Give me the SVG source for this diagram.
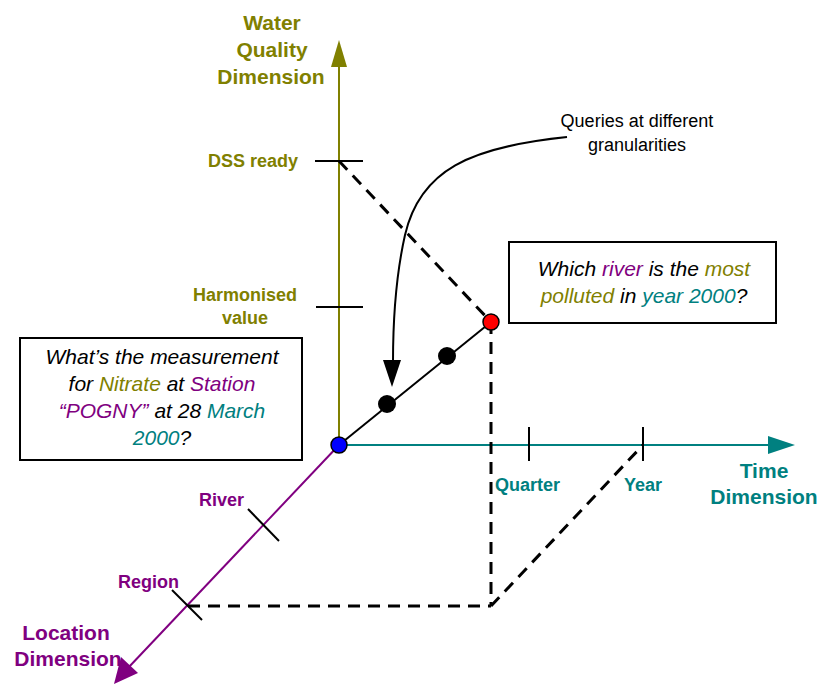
<svg xmlns="http://www.w3.org/2000/svg" width="820" height="684" viewBox="0 0 820 684">
  <defs>
    <style>
      .lbl { font-family: "Liberation Sans", Arial, sans-serif; font-weight: bold; }
      .olive { fill: #808000; }
      .purple { fill: #800080; }
      .teal { fill: #008080; }
      .dim { font-size: 21px; }
      .tk { font-size: 18px; }
      .q { font-family: "Liberation Sans", Arial, sans-serif; font-style: italic; font-size: 21px; fill: #000; }
      .note { font-family: "Liberation Sans", Arial, sans-serif; font-size: 18px; fill: #000; }
      .tick { stroke: #000; stroke-width: 2; fill: none; }
      .dash { stroke: #000; stroke-width: 3; stroke-dasharray: 12 8; fill: none; }
      .box { fill: #fff; stroke: #000; stroke-width: 2; }
    </style>
  </defs>

  <!-- dimension axes -->
  <g id="axes">
    <line x1="339" y1="445" x2="339" y2="66" stroke="#808000" stroke-width="2"/>
    <polygon points="339,40 331,67 347,67" fill="#808000"/>
    <line x1="339" y1="445" x2="770" y2="445" stroke="#008080" stroke-width="2"/>
    <polygon points="795,445 768,436 768,454" fill="#008080"/>
    <line x1="339" y1="445" x2="128" y2="668" stroke="#800080" stroke-width="2"/>
    <polygon points="114,684 121,657 138,673" fill="#800080"/>
  </g>

  <!-- ticks -->
  <g id="ticks">
    <line class="tick" x1="315" y1="161" x2="363" y2="161"/>
    <line class="tick" x1="316" y1="307" x2="363" y2="307"/>
    <line class="tick" x1="529" y1="427" x2="529" y2="461"/>
    <line class="tick" x1="643" y1="427" x2="643" y2="461"/>
    <line class="tick" x1="248" y1="509" x2="279" y2="541"/>
    <line class="tick" x1="172" y1="590" x2="202" y2="620"/>
  </g>

  <!-- axis labels -->
  <g id="labels" class="lbl">
    <text class="dim olive" text-anchor="middle" x="272" y="30">Water</text>
    <text class="dim olive" text-anchor="middle" x="272" y="57">Quality</text>
    <text class="dim olive" text-anchor="middle" x="271" y="84">Dimension</text>
    <text class="tk olive" text-anchor="end" x="298" y="167">DSS ready</text>
    <text class="tk olive" text-anchor="middle" x="245" y="301">Harmonised</text>
    <text class="tk olive" text-anchor="middle" x="245" y="324">value</text>
    <text class="tk teal" x="495" y="491">Quarter</text>
    <text class="tk teal" x="624" y="491">Year</text>
    <text class="dim teal" text-anchor="middle" x="764" y="478">Time</text>
    <text class="dim teal" text-anchor="middle" x="764" y="504">Dimension</text>
    <text class="tk purple" x="199" y="506">River</text>
    <text class="tk purple" x="118" y="588">Region</text>
    <text class="dim purple" text-anchor="middle" x="66" y="640">Location</text>
    <text class="dim purple" text-anchor="middle" x="68" y="666">Dimension</text>
  </g>

  <!-- connectors -->
  <g id="connectors">
    <line class="dash" x1="339" y1="161" x2="491" y2="322"/>
    <line class="dash" x1="491" y1="322" x2="491" y2="606"/>
    <line class="dash" x1="188" y1="606" x2="491" y2="606"/>
    <line class="dash" x1="491" y1="606" x2="643" y2="445"/>
    <line x1="339" y1="445" x2="491" y2="322" stroke="#000" stroke-width="2"/>
    <path d="M567,137 C470,147 420,170 405,235 C396,275 393,320 393,362" fill="none" stroke="#000" stroke-width="2"/>
    <polygon points="392,387 383,360 401,360" fill="#000"/>
  </g>

  <!-- points -->
  <g id="origin">
    <circle cx="339" cy="445" r="8" fill="#0000ff" stroke="#000" stroke-width="1.5"/>
  </g>
  <g id="fine-point">
    <circle cx="387" cy="404" r="9" fill="#000"/>
  </g>
  <g id="mid-point">
    <circle cx="447" cy="356" r="9" fill="#000"/>
  </g>
  <g id="coarse-point">
    <circle cx="491" cy="322" r="8" fill="#ff0000" stroke="#000" stroke-width="1.5"/>
  </g>

  <!-- query boxes -->
  <g id="query-detail">
    <rect class="box" x="20" y="338" width="282" height="122"/>
    <text class="q" text-anchor="middle" x="162" y="364">What’s the measurement</text>
    <text class="q" text-anchor="middle" x="162" y="391">for <tspan class="olive">Nitrate</tspan> at <tspan class="purple">Station</tspan></text>
    <text class="q" text-anchor="middle" x="162" y="418"><tspan class="purple">“POGNY”</tspan> at 28 <tspan class="teal">March</tspan></text>
    <text class="q" text-anchor="middle" x="162" y="445"><tspan class="teal">2000</tspan>?</text>
  </g>
  <g id="query-summary">
    <rect class="box" x="509" y="242" width="267" height="81"/>
    <text class="q" text-anchor="middle" x="644" y="276">Which <tspan class="purple">river</tspan> is the <tspan class="olive">most</tspan></text>
    <text class="q" text-anchor="middle" x="644" y="303"><tspan class="olive">polluted</tspan> in <tspan class="teal">year 2000</tspan>?</text>
  </g>
  <g id="note">
    <text class="note" text-anchor="middle" x="637" y="127">Queries at different</text>
    <text class="note" text-anchor="middle" x="637" y="151">granularities</text>
  </g>
</svg>
